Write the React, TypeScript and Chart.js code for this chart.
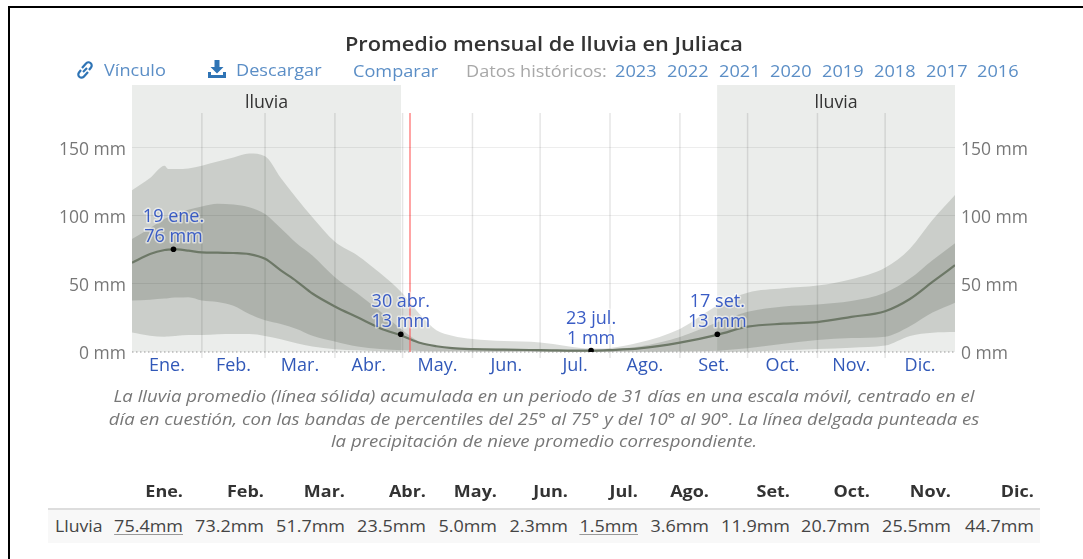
import React, { useEffect, useRef } from "react";
import { Chart, registerables } from "chart.js";

Chart.register(...registerables);

const FONT = '"Open Sans", sans-serif';

const days = [0, 8, 14.5, 16, 19, 20, 25, 31, 38, 45, 52, 59, 66, 73, 80, 90, 100, 110, 120, 128, 135, 142, 151, 165, 181, 204, 212, 225, 243, 260, 273, 289, 304, 319, 334, 345, 355, 365];
const p90 = [119, 128, 137, 134.5, 134.5, 134.5, 135, 137, 140, 143, 146, 144, 128, 113, 99, 81, 71, 58, 43, 27, 16, 12, 9.5, 8, 7, 2.5, 3, 7, 17, 34.5, 43.6, 46.8, 48.8, 53.5, 62, 76, 97, 115.4];
const p75 = [83, 91, 98, 99, 101, 102, 104.5, 107, 109, 108.5, 106.5, 101.5, 91, 80, 71, 55, 43, 30, 16, 7, 4, 3, 2.7, 2.3, 1.8, 1.2, 2, 4, 11, 22, 29.6, 33.5, 35, 37.5, 43.6, 54, 67.5, 80];
const rainMean = [65.7, 72, 75, 75.3, 75.5, 75.4, 74.5, 73.3, 73, 72.8, 72, 68.5, 60, 52, 43, 33.5, 25.5, 17.5, 11.8, 6.6, 4.2, 2.8, 2.1, 1.7, 1.4, 1, 1.4, 2.6, 6.9, 12.8, 18.6, 20.8, 22, 25.8, 30, 39, 51.5, 63.8];
const p25 = [37.8, 38.5, 39.3, 39.5, 40, 40, 40.2, 37.8, 36.8, 34, 28, 23.3, 20.5, 17, 12, 7.8, 4, 2.2, 1.2, 0.8, 0.6, 0.5, 0.4, 0.3, 0.2, 0.1, 0.2, 0.3, 0.5, 1, 2.7, 6, 8.8, 10.3, 11.3, 19, 29, 36.3];
const p10 = [14.4, 12, 11.3, 11.4, 11.8, 12, 12.5, 12.5, 13, 13.2, 13.2, 11.8, 9.3, 6.5, 4, 2, 1.2, 0.5, 0.2, 0.1, 0.1, 0.1, 0, 0, 0, 0, 0, 0, 0, 0.1, 0.3, 1.2, 2.2, 3.2, 4.7, 11.8, 14.2, 14.7];

const monthLabels = ["Ene.", "Feb.", "Mar.", "Abr.", "May.", "Jun.", "Jul.", "Ago.", "Set.", "Oct.", "Nov.", "Dic."];
const monthStarts = [31, 59, 90, 120, 151, 181, 212, 243, 273, 304, 334];
const monthMids = [15.5, 45, 74.5, 105, 135.5, 166, 196.5, 227.5, 258, 288.5, 319, 349.5];
const yTicks = [0, 50, 100, 150];
const Y_MAX = 196.3;
const GRID_TOP = 175.7;

const seasonStart = [0, 259.5];
const seasonEnd = [119.3, 365];
const seasonLabel = "lluvia";
const todayDay = 123.3;

const peakDays = [18.4, 119.2, 203.6, 259.6];
const peakValues = [75.5, 13, 1, 13];
const peakDates = ["19 ene.", "30 abr.", "23 jul.", "17 set."];
const peakTexts = ["76 mm", "13 mm", "1 mm", "13 mm"];

const tableHeads = monthLabels;
const tableValues = ["75.4mm", "73.2mm", "51.7mm", "23.5mm", "5.0mm", "2.3mm", "1.5mm", "3.6mm", "11.9mm", "20.7mm", "25.5mm", "44.7mm"];
const underlined = [0, 6];
const tableRight = [183, 264, 345, 426, 497, 568, 638, 709, 790, 870, 951, 1034];

const years = ["2023", "2022", "2021", "2020", "2019", "2018", "2017", "2016"];
const yearLeft = [615, 667, 719, 770, 822, 874, 926, 977];

const captionLines = [
  "La lluvia promedio (línea sólida) acumulada en un periodo de 31 días en una escala móvil, centrado en el",
  "día en cuestión, con las bandas de percentiles del 25° al 75° y del 10° al 90°. La línea delgada punteada es",
  "la precipitación de nieve promedio correspondiente.",
];

const series = (vals: number[]) => vals.map((y, i) => ({ x: days[i], y }));

const backdrop = {
  id: "backdrop",
  beforeDatasetsDraw(chart: any) {
    const { ctx, scales } = chart;
    const x = scales.x;
    const y = scales.y;
    ctx.save();
    ctx.fillStyle = "#ebedeb";
    seasonStart.forEach((s, i) => {
      const a = x.getPixelForValue(s);
      const b = x.getPixelForValue(seasonEnd[i]);
      ctx.fillRect(a, y.top, b - a, y.bottom - y.top);
    });
    ctx.font = `17.8px ${FONT}`;
    ctx.fillStyle = "#333";
    ctx.textAlign = "center";
    ctx.textBaseline = "middle";
    seasonStart.forEach((s, i) => {
      ctx.fillText(seasonLabel, (x.getPixelForValue(s) + x.getPixelForValue(seasonEnd[i])) / 2, y.top + 18);
    });
    ctx.strokeStyle = "rgba(0,0,0,0.1)";
    ctx.lineWidth = 1.5;
    monthStarts.forEach((d) => {
      const px = x.getPixelForValue(d);
      ctx.beginPath();
      ctx.moveTo(px, y.getPixelForValue(GRID_TOP));
      ctx.lineTo(px, y.bottom + 6);
      ctx.stroke();
    });
    ctx.restore();
  },
};

const overlay = {
  id: "overlay",
  afterDatasetsDraw(chart: any) {
    const { ctx, scales } = chart;
    const x = scales.x;
    const y = scales.y;
    ctx.save();
    ctx.strokeStyle = "rgba(255,90,90,0.55)";
    ctx.lineWidth = 2;
    const tx = x.getPixelForValue(todayDay);
    ctx.beginPath();
    ctx.moveTo(tx, y.getPixelForValue(GRID_TOP));
    ctx.lineTo(tx, y.bottom);
    ctx.stroke();

    ctx.font = `18px ${FONT}`;
    ctx.textAlign = "center";
    ctx.textBaseline = "middle";
    ctx.lineJoin = "round";
    ctx.lineWidth = 3;
    ctx.strokeStyle = "rgba(255,255,255,0.55)";
    ctx.fillStyle = "#3a5cc5";
    peakDays.forEach((d, i) => {
      const px = x.getPixelForValue(d);
      const py = y.getPixelForValue(peakValues[i]);
      ctx.strokeText(peakDates[i], px, py - 32);
      ctx.fillText(peakDates[i], px, py - 32);
      ctx.strokeText(peakTexts[i], px, py - 12);
      ctx.fillText(peakTexts[i], px, py - 12);
    });
    ctx.restore();
  },
};

const abs = (left: number, top: number, extra: any = {}) => ({
  position: "absolute" as const,
  left,
  top,
  whiteSpace: "nowrap" as const,
  ...extra,
});

export default function App() {
  const ref = useRef<HTMLCanvasElement | null>(null);
  useEffect(() => {
    document.body.style.overflow = "hidden";
    const chart = new Chart(ref.current as HTMLCanvasElement, {
      type: "line",
      data: {
        datasets: [
          { order: 6, data: series(p90), fill: 1, backgroundColor: "rgba(75,85,70,0.2)", borderWidth: 0, pointRadius: 0, cubicInterpolationMode: "monotone" },
          { order: 5, data: series(p10), fill: false, borderWidth: 0, pointRadius: 0, cubicInterpolationMode: "monotone" },
          { order: 4, data: series(p75), fill: 3, backgroundColor: "rgba(60,70,55,0.2)", borderWidth: 0, pointRadius: 0, cubicInterpolationMode: "monotone" },
          { order: 3, data: series(p25), fill: false, borderWidth: 0, pointRadius: 0, cubicInterpolationMode: "monotone" },
          { order: 1, data: series(rainMean), fill: false, borderColor: "#6d7867", borderWidth: 2.2, pointRadius: 0, cubicInterpolationMode: "monotone" },
          { order: 2, data: [{ x: 0, y: 0 }, { x: 365, y: 0 }], fill: false, borderColor: "#999", borderWidth: 1, borderDash: [1.5, 2.5], pointRadius: 0, clip: false },
          { order: 0, data: peakDays.map((d, i) => ({ x: d, y: peakValues[i] })), showLine: false, pointRadius: 2.8, pointBackgroundColor: "#000", pointBorderWidth: 0 },
        ] as any,
      },
      options: {
        responsive: false,
        animation: false,
        layout: { autoPadding: false, padding: { top: 85, left: 0, right: 0, bottom: 0 } },
        plugins: { legend: { display: false }, tooltip: { enabled: false } },
        scales: {
          x: {
            type: "linear",
            min: 0,
            max: 365,
            grid: { display: false, drawTicks: false },
            border: { display: false },
            afterBuildTicks: (a: any) => { a.ticks = monthMids.map((value) => ({ value })); },
            afterFit: (a: any) => { a.height = 559 - 352; },
            ticks: {
              autoSkip: false,
              maxRotation: 0,
              padding: 3,
              color: "#3158b8",
              font: { family: FONT, size: 18 },
              callback: (_v: any, i: number) => monthLabels[i],
            },
          },
          y: {
            position: "left",
            min: 0,
            max: Y_MAX,
            grid: { drawTicks: false, z: 1, lineWidth: 1, color: (c: any) => (c.tick && c.tick.value === 0 ? "transparent" : "rgba(0,0,0,0.07)") },
            border: { display: false },
            afterBuildTicks: (a: any) => { a.ticks = yTicks.map((value) => ({ value })); },
            afterFit: (a: any) => { a.width = 132; },
            ticks: { padding: 6, labelOffset: 2, color: "#777", font: { family: FONT, size: 17.5 }, callback: (v: any) => `${v} mm` },
          },
          y2: {
            position: "right",
            min: 0,
            max: Y_MAX,
            grid: { display: false, drawTicks: false },
            border: { display: false },
            afterBuildTicks: (a: any) => { a.ticks = yTicks.map((value) => ({ value })); },
            afterFit: (a: any) => { a.width = 1083 - 955; },
            ticks: { padding: 6, labelOffset: 2, color: "#777", font: { family: FONT, size: 17.5 }, callback: (v: any) => `${v} mm` },
          },
        },
      } as any,
      plugins: [backdrop, overlay],
    });
    return () => chart.destroy();
  }, []);

  const linkColor = "#5b8ec6";
  const link = { fontSize: 16.5, lineHeight: "22px", transform: "scaleX(1.1)", transformOrigin: "left center" };
  const cell = { fontSize: 16.5, lineHeight: "22px", textAlign: "right" as const, transform: "scaleX(1.09)", transformOrigin: "right center" };
  return (
    <div style={{ position: "absolute", left: 0, top: 0, width: 1083, height: 559, overflow: "hidden", background: "#fff", fontFamily: FONT }}>
      <canvas ref={ref} width={1083} height={559} style={{ position: "absolute", left: 0, top: 0, display: "block" }} />
      <div style={{ position: "absolute", left: 8, top: 6, right: 0, height: 2, background: "#000" }} />
      <div style={{ position: "absolute", left: 8, top: 6, bottom: 0, width: 2, background: "#000" }} />

      <div style={abs(0, 31, { width: 1088, textAlign: "center", fontSize: 20, fontWeight: 600, color: "#333", lineHeight: "26px", transform: "scaleX(1.088)", transformOrigin: "544px center" })}>
        Promedio mensual de lluvia en Juliaca
      </div>

      <svg style={abs(75, 60)} width="20" height="20" viewBox="0 0 20 20" fill="none" stroke="#2f74b5" strokeWidth="2.2">
        <path d="M8 12 L12 8" />
        <path d="M7 8 L11 3.5 a3 3 0 0 1 5 4 L14 10" />
        <path d="M13 12 L9 16.5 a3 3 0 0 1 -5 -4 L6 10" />
      </svg>
      <span style={abs(104, 59, { ...link, color: linkColor })}>Vínculo</span>
      <svg style={abs(207, 59)} width="20" height="20" viewBox="0 0 20 20" fill="#2f74b5">
        <path d="M7.5 1 H12.5 V8 H16.5 L10 14.5 L3.5 8 H7.5 Z" />
        <path d="M1 13 H4 V16 H16 V13 H19 V19 H1 Z" />
      </svg>
      <span style={abs(236, 59, { ...link, color: linkColor })}>Descargar</span>
      <span style={abs(353, 60, { ...link, color: linkColor })}>Comparar</span>
      <span style={abs(466, 60, { ...link, color: "#a8a8a8" })}>Datos históricos:</span>
      {years.map((yr, i) => (
        <span key={yr} style={abs(yearLeft[i], 60, { ...link, color: linkColor })}>{yr}</span>
      ))}

      {captionLines.map((line, i) => (
        <div key={i} style={abs(0, 384 + i * 22.5, { width: 1088, textAlign: "center", fontSize: 17, fontStyle: "italic", color: "#777", lineHeight: "24px", transform: "scaleX(1.092)", transformOrigin: "544px center" })}>
          {line}
        </div>
      ))}

      <div style={{ position: "absolute", left: 48, top: 509, width: 992, height: 34, background: "#f8f8f8" }} />
      <div style={{ position: "absolute", left: 48, top: 508, width: 992, height: 2, background: "#ddd" }} />
      <span style={abs(55, 515, { fontSize: 16.5, color: "#444", lineHeight: "22px", transform: "scaleX(1.07)", transformOrigin: "left center" })}>Lluvia</span>
      {tableHeads.map((h, i) => (
        <span key={h} style={abs(tableRight[i] - 100, 480, { ...cell, width: 100, fontWeight: 700, color: "#333" })}>{h}</span>
      ))}
      {tableValues.map((v, i) => (
        <span key={i} style={abs(tableRight[i] - 100, 515, { ...cell, width: 100, color: "#444" })}>
          <span style={underlined.includes(i) ? { textDecoration: "underline", textDecorationColor: "#999", textUnderlineOffset: "2px" } : undefined}>{v}</span>
        </span>
      ))}
    </div>
  );
}
